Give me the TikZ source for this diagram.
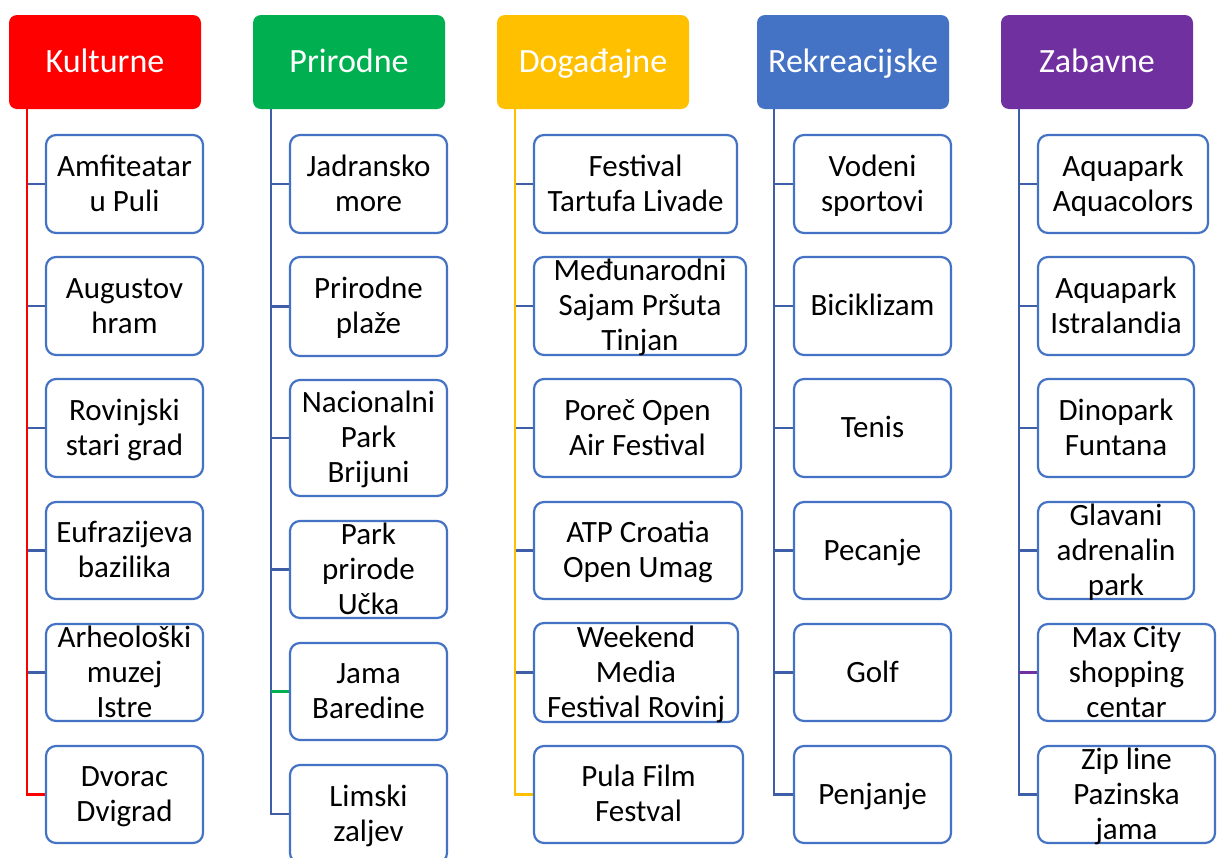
\documentclass[tikz,border=0pt]{standalone}
\usepackage{fontspec}
\setmainfont{Carlito}
\usetikzlibrary{backgrounds}
\definecolor{cred}{HTML}{FF0000}
\definecolor{cgreen}{HTML}{00B050}
\definecolor{cgold}{HTML}{FFC000}
\definecolor{cblue}{HTML}{4472C4}
\definecolor{cpurple}{HTML}{7030A0}
\definecolor{lineblue}{HTML}{3E5FA8}
\newcommand\childbox[6]{%
  \pgfmathsetmacro\cbw{#4-#2}\pgfmathsetmacro\cbh{#5-#3}%
  \pgfmathsetmacro\cbx{(#2+#4)/2}\pgfmathsetmacro\cby{(#3+#5)/2}%
  \node[cbox, minimum width=\cbw pt, minimum height=\cbh pt] (#1) at (\cbx,\cby) {};
  \node[ctext] (#1t) at ([yshift=-2.5pt]#1.center) {\begin{tabular}{@{}c@{}}#6\end{tabular}};
}
\tikzset{
  cbox/.style={draw=cblue, line width=2.2pt, rounded corners=10pt, fill=white, inner sep=0pt, outer sep=0pt},
  ctext/.style={font=\fontsize{31}{35}\selectfont, inner sep=0pt, text=black},
  hdr/.style={rounded corners=8pt, text=white, font=\fontsize{34}{40}\selectfont,
    minimum width=192pt, minimum height=94pt, inner sep=0pt, outer sep=0pt,
    text height=25pt, text depth=5pt},
  conn/.style={line width=2.6pt, draw=lineblue}
}
\begin{document}
\begin{tikzpicture}[x=1pt, y=-1pt]
\useasboundingbox (0,0) rectangle (1217,857);
% headers
\node[hdr, fill=cred] (H1) at (105,62) {Kulturne};
\node[hdr, fill=cgreen] (H2) at (349,62) {Prirodne};
\node[hdr, fill=cgold] (H3) at (593,62) {Događajne};
\node[hdr, fill=cblue] (H4) at (853,62) {Rekreacijske};
\node[hdr, fill=cpurple] (H5) at (1097,62) {Zabavne};
% Kulturne
\childbox{k1}{46}{135}{203}{233}{Amfiteatar\\u Puli}
\childbox{k2}{46}{257}{203}{355}{Augustov\\hram}
\childbox{k3}{46}{379}{203}{477}{Rovinjski\\stari grad}
\childbox{k4}{46}{502}{203}{599}{Eufrazijeva\\bazilika}
\childbox{k5}{46}{624}{203}{721}{Arheološki\\muzej\\Istre}
\childbox{k6}{46}{746}{203}{843}{Dvorac\\Dvigrad}
% Prirodne
\childbox{p1}{290}{135}{447}{233}{Jadransko\\more}
\childbox{p2}{290}{257}{447}{356}{Prirodne\\plaže}
\childbox{p3}{290}{380}{447}{496}{Nacionalni\\Park\\Brijuni}
\childbox{p4}{290}{521}{447}{618}{Park\\prirode\\Učka}
\childbox{p5}{290}{643}{447}{740}{Jama\\Baredine}
\childbox{p6}{290}{765}{447}{863}{Limski\\zaljev}
% Dogadajne
\childbox{d1}{534}{135}{737}{233}{Festival\\Tartufa Livade}
\childbox{d2}{534}{257}{746}{355}{Međunarodni\\Sajam Pršuta\\Tinjan}
\childbox{d3}{534}{379}{741}{477}{Poreč Open\\Air Festival}
\childbox{d4}{534}{502}{742}{599}{ATP Croatia\\Open Umag}
\childbox{d5}{534}{623}{738}{722}{Weekend\\Media\\Festival Rovinj}
\childbox{d6}{534}{746}{743}{843}{Pula Film\\Festval}
% Rekreacijske
\childbox{r1}{794}{135}{951}{233}{Vodeni\\sportovi}
\childbox{r2}{794}{257}{951}{355}{Biciklizam}
\childbox{r3}{794}{379}{951}{477}{Tenis}
\childbox{r4}{794}{502}{951}{599}{Pecanje}
\childbox{r5}{794}{624}{951}{721}{Golf}
\childbox{r6}{794}{746}{951}{843}{Penjanje}
% Zabavne
\childbox{z1}{1038}{135}{1208}{233}{Aquapark\\Aquacolors}
\childbox{z2}{1038}{257}{1194}{355}{Aquapark\\Istralandia}
\childbox{z3}{1038}{379}{1194}{477}{Dinopark\\Funtana}
\childbox{z4}{1038}{502}{1194}{599}{Glavani\\adrenalin\\park}
\childbox{z5}{1038}{624}{1215}{721}{Max City\\shopping\\centar}
\childbox{z6}{1038}{746}{1215}{843}{Zip line\\Pazinska\\jama}
% trunk coordinates
\coordinate (kv) at ([xshift=18pt]H1.south west);
\coordinate (pv) at ([xshift=18pt]H2.south west);
\coordinate (dv) at ([xshift=18pt]H3.south west);
\coordinate (rv) at ([xshift=17pt]H4.south west);
\coordinate (zv) at ([xshift=18pt]H5.south west);
\begin{pgfonlayer}{background}
\fill[white] (0,0) rectangle (1217,857);
% Kulturne
\foreach \c in {k1,k2,k3,k4,k5} \draw[conn] (kv |- \c.west) -- (\c.west);
\draw[conn, draw=cred] (kv) |- (k6.west);
% Prirodne
\foreach \c in {p1,p2,p3,p4} \draw[conn] (pv |- \c.west) -- (\c.west);
\draw[conn] (pv) |- (p6.west);
\draw[conn, draw=cgreen] (pv |- p5.west) -- (p5.west);
% Dogadajne
\foreach \c in {d1,d2,d3,d4,d5} \draw[conn] (dv |- \c.west) -- (\c.west);
\draw[conn, draw=cgold] (dv) |- (d6.west);
% Rekreacijske
\foreach \c in {r1,r2,r3,r4,r5} \draw[conn] (rv |- \c.west) -- (\c.west);
\draw[conn] (rv) |- (r6.west);
% Zabavne
\foreach \c in {z1,z2,z3,z4} \draw[conn] (zv |- \c.west) -- (\c.west);
\draw[conn] (zv) |- (z6.west);
\draw[conn, draw=cpurple] (zv |- z5.west) -- (z5.west);
\end{pgfonlayer}
\end{tikzpicture}
\end{document}
